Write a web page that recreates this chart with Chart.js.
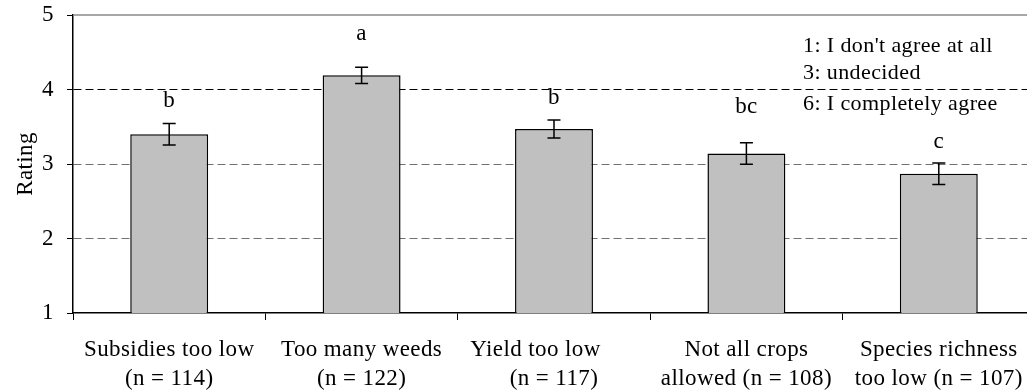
<!DOCTYPE html>
<html>
<head>
<meta charset="utf-8">
<title>Rating</title>
<script src="https://cdn.jsdelivr.net/npm/chart.js@4.4.0/dist/chart.umd.min.js"></script>
<style>
  html, body { margin: 0; padding: 0; background: #fff; overflow: hidden; }
  #wrap { width: 1040px; height: 392px; }
</style>
</head>
<body>
<div id="wrap"><canvas id="ratingChart" width="1040" height="392"></canvas></div>
<script>
// data
var categories = [
  ['Subsidies too low', '(n = 114)'],
  ['Too many weeds', '(n = 122)'],
  ['Yield too low      ', '(n = 117)'],
  ['Not all crops', 'allowed (n = 108)'],
  ['Species richness', 'too low (n = 107)']
];
var ratings = [3.40, 4.19, 3.47, 3.14, 2.87];
var errors = [0.145, 0.11, 0.12, 0.145, 0.145];
var groupLetters = ['b', 'a', 'b', 'bc', 'c'];
var letterLevels = [3.77, 4.66, 3.80, 3.69, 3.22];
var scaleNotes = ["1: I don't agree at all", '3: undecided', '6: I completely agree'];
var yTicks = [1, 2, 3, 4, 5];

var serif = '"Liberation Serif", "Times New Roman", serif';

var extras = {
  id: 'extras',
  beforeUpdate: function(chart) { chart.ctx.letterSpacing = '0.4px'; },
  beforeDraw: function(chart) { chart.ctx.letterSpacing = '0.4px'; },
  afterDatasetsDraw: function(chart) {
    var ctx = chart.ctx, x = chart.scales.x, y = chart.scales.y, area = chart.chartArea;
    ctx.save();
    // top frame line
    ctx.strokeStyle = '#8a8a8a';
    ctx.lineWidth = 1.5;
    ctx.beginPath();
    ctx.moveTo(area.left, area.top);
    ctx.lineTo(area.right, area.top);
    ctx.stroke();

    // error bars
    ctx.strokeStyle = '#000';
    ctx.lineWidth = 1.5;
    for (var i = 0; i < ratings.length; i++) {
      var cx = x.getPixelForValue(i);
      var hi = y.getPixelForValue(ratings[i] + errors[i]);
      var lo = y.getPixelForValue(ratings[i] - errors[i]);
      ctx.beginPath();
      ctx.moveTo(cx, hi); ctx.lineTo(cx, lo);
      ctx.moveTo(cx - 6.5, hi); ctx.lineTo(cx + 6.5, hi);
      ctx.moveTo(cx - 6.5, lo); ctx.lineTo(cx + 6.5, lo);
      ctx.stroke();
    }

    // significance letters
    ctx.fillStyle = '#000';
    ctx.font = '23px ' + serif;
    ctx.textAlign = 'center';
    ctx.textBaseline = 'alphabetic';
    for (var j = 0; j < groupLetters.length; j++) {
      ctx.fillText(groupLetters[j], x.getPixelForValue(j), y.getPixelForValue(letterLevels[j]));
    }

    // scale notes, top right
    ctx.textAlign = 'left';
    ctx.font = '22px ' + serif;
    var noteY = [52, 79, 110];
    for (var k = 0; k < scaleNotes.length; k++) {
      ctx.fillText(scaleNotes[k], 803, noteY[k]);
    }
    ctx.restore();
  }
};

new Chart(document.getElementById('ratingChart'), {
  type: 'bar',
  data: {
    labels: categories,
    datasets: [{
      data: ratings,
      backgroundColor: '#c0c0c0',
      borderColor: '#000',
      borderWidth: 1.5,
      barPercentage: 0.405,
      categoryPercentage: 1
    }]
  },
  options: {
    responsive: false,
    animation: false,
    layout: { padding: { top: 15, right: 5, left: 0, bottom: 0 } },
    plugins: { legend: { display: false }, tooltip: { enabled: false } },
    scales: {
      x: {
        grid: { offset: true, drawOnChartArea: false, drawTicks: true, tickLength: 7, tickColor: '#000', tickWidth: 1 },
        border: { color: '#000', width: 1.5 },
        ticks: {
          color: '#000',
          font: { family: serif, size: 23, lineHeight: 1.26 },
          padding: 15,
          maxRotation: 0,
          autoSkip: false
        },
        afterFit: function(s) { s.height = 79; s.paddingLeft = 0; s.paddingRight = 0; }
      },
      y: {
        min: 1,
        max: 5,
        afterBuildTicks: function(s) { s.ticks = yTicks.map(function(v) { return { value: v }; }); },
        grid: {
          color: function(c) {
            var v = c.tick ? c.tick.value : 0;
            if (v === 4) return '#000';
            if (v === 2 || v === 3) return '#707070';
            return 'rgba(0,0,0,0)';
          },
          lineWidth: 1,
          drawTicks: true,
          tickLength: 6,
          tickColor: '#000'
        },
        border: { color: '#000', width: 1.5, dash: [8, 4] },
        ticks: { color: '#000', font: { family: serif, size: 23 }, padding: 13 },
        title: {
          display: true,
          text: 'Rating',
          color: '#000',
          font: { family: serif, size: 23 },
          padding: { top: 12, bottom: 0 }
        },
        afterFit: function(s) { s.width = 73; s.paddingTop = 0; s.paddingBottom = 0; }
      }
    }
  },
  plugins: [extras]
});
</script>
</body>
</html>
